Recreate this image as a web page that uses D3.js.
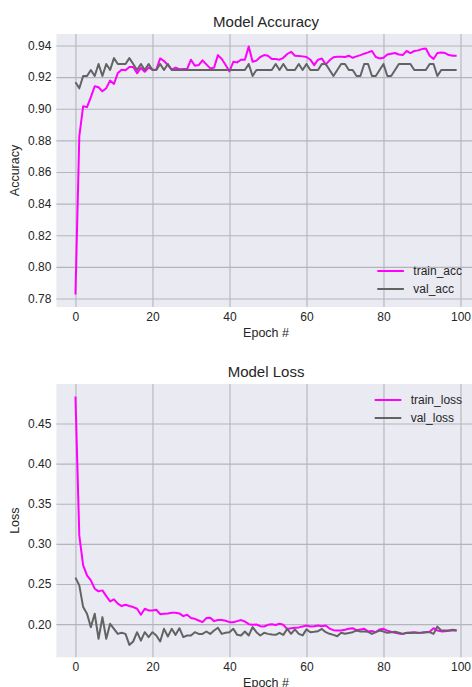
<!DOCTYPE html>
<html>
<head>
<meta charset="utf-8">
<script src="https://cdn.jsdelivr.net/npm/d3@7"></script>
<style>
  body { margin: 0; background: #fff; }
  text { font-family: "Liberation Sans", Arial, sans-serif; fill: #262626; }
</style>
</head>
<body>
<div id="chart"></div>
<script>
// data, one value per epoch (0..99)
const trainAcc = [
  0.7825, 0.8827, 0.9016, 0.9010, 0.9073, 0.9142, 0.9136, 0.9110, 0.9130, 0.9178,
  0.9157, 0.9226, 0.9247, 0.9243, 0.9264, 0.9264, 0.9224, 0.9258, 0.9234, 0.9260,
  0.9247, 0.9247, 0.9318, 0.9302, 0.9276, 0.9247, 0.9260, 0.9250, 0.9251, 0.9251,
  0.9310, 0.9272, 0.9276, 0.9306, 0.9280, 0.9255, 0.9260, 0.9339, 0.9314, 0.9276,
  0.9236, 0.9297, 0.9293, 0.9310, 0.9310, 0.9394, 0.9297, 0.9304, 0.9327, 0.9339,
  0.9335, 0.9314, 0.9314, 0.9310, 0.9322, 0.9346, 0.9360, 0.9335, 0.9333, 0.9331,
  0.9327, 0.9310, 0.9276, 0.9310, 0.9318, 0.9280, 0.9306, 0.9325, 0.9329, 0.9329,
  0.9327, 0.9335, 0.9322, 0.9331, 0.9339, 0.9348, 0.9356, 0.9365, 0.9327, 0.9318,
  0.9322, 0.9343, 0.9348, 0.9352, 0.9343, 0.9339, 0.9365, 0.9352, 0.9365, 0.9369,
  0.9377, 0.9381, 0.9335, 0.9314, 0.9352, 0.9356, 0.9352, 0.9339, 0.9335, 0.9335
];
const valAcc = [
  0.9167, 0.9129, 0.9207, 0.9207, 0.9245, 0.9207, 0.9283, 0.9207, 0.9283, 0.9245,
  0.9320, 0.9283, 0.9283, 0.9283, 0.9320, 0.9283, 0.9245, 0.9283, 0.9245, 0.9283,
  0.9245, 0.9245, 0.9283, 0.9245, 0.9283, 0.9245, 0.9245, 0.9245, 0.9245, 0.9245,
  0.9245, 0.9245, 0.9245, 0.9245, 0.9245, 0.9245, 0.9245, 0.9245, 0.9245, 0.9245,
  0.9245, 0.9245, 0.9245, 0.9245, 0.9245, 0.9283, 0.9207, 0.9245, 0.9245, 0.9245,
  0.9245, 0.9245, 0.9283, 0.9245, 0.9283, 0.9245, 0.9245, 0.9245, 0.9283, 0.9245,
  0.9283, 0.9245, 0.9245, 0.9245, 0.9283, 0.9283, 0.9245, 0.9207, 0.9245, 0.9283,
  0.9283, 0.9245, 0.9245, 0.9207, 0.9207, 0.9283, 0.9283, 0.9207, 0.9207, 0.9245,
  0.9283, 0.9207, 0.9207, 0.9245, 0.9283, 0.9283, 0.9283, 0.9283, 0.9245, 0.9245,
  0.9245, 0.9245, 0.9283, 0.9283, 0.9207, 0.9245, 0.9245, 0.9245, 0.9245, 0.9245
];
const trainLoss = [
  0.4838, 0.3100, 0.2734, 0.2609, 0.2546, 0.2442, 0.2409, 0.2421, 0.2350, 0.2284,
  0.2309, 0.2255, 0.2226, 0.2242, 0.2226, 0.2213, 0.2192, 0.2117, 0.2192, 0.2171,
  0.2171, 0.2180, 0.2125, 0.2130, 0.2134, 0.2142, 0.2142, 0.2134, 0.2100, 0.2117,
  0.2076, 0.2067, 0.2046, 0.2025, 0.2076, 0.2080, 0.2038, 0.2051, 0.2051, 0.2042,
  0.2025, 0.2025, 0.2038, 0.2051, 0.2034, 0.2000, 0.1992, 0.1996, 0.1975, 0.1971,
  0.1992, 0.2000, 0.1990, 0.2005, 0.1992, 0.1940, 0.1950, 0.1955, 0.1960, 0.1970,
  0.1984, 0.1970, 0.1975, 0.1984, 0.1975, 0.1984, 0.1945, 0.1925, 0.1921, 0.1921,
  0.1930, 0.1942, 0.1950, 0.1925, 0.1935, 0.1942, 0.1910, 0.1915, 0.1900, 0.1935,
  0.1942, 0.1920, 0.1905, 0.1892, 0.1885, 0.1879, 0.1890, 0.1895, 0.1900, 0.1890,
  0.1892, 0.1900, 0.1905, 0.1950, 0.1920, 0.1910, 0.1912, 0.1918, 0.1925, 0.1922
];
const valLoss = [
  0.2580, 0.2484, 0.2213, 0.2130, 0.1963, 0.2130, 0.1817, 0.2088, 0.1817, 0.2005,
  0.1942, 0.1879, 0.1892, 0.1879, 0.1742, 0.1784, 0.1900, 0.1796, 0.1900, 0.1838,
  0.1900, 0.1859, 0.1784, 0.1942, 0.1846, 0.1942, 0.1867, 0.1950, 0.1838, 0.1859,
  0.1859, 0.1900, 0.1879, 0.1879, 0.1909, 0.1879, 0.1921, 0.1955, 0.1879, 0.1892,
  0.1900, 0.1942, 0.1867, 0.1859, 0.1909, 0.1859, 0.1963, 0.1900, 0.1859, 0.1892,
  0.1879, 0.1871, 0.1867, 0.1892, 0.1867, 0.1942, 0.1880, 0.1935, 0.1880, 0.1860,
  0.1935, 0.1900, 0.1905, 0.1912, 0.1940, 0.1900, 0.1880, 0.1867, 0.1850, 0.1892,
  0.1880, 0.1890, 0.1900, 0.1921, 0.1909, 0.1909, 0.1905, 0.1879, 0.1900, 0.1921,
  0.1909, 0.1892, 0.1900, 0.1905, 0.1892, 0.1879, 0.1892, 0.1890, 0.1892, 0.1892,
  0.1895, 0.1900, 0.1900, 0.1879, 0.1970, 0.1921, 0.1921, 0.1921, 0.1930, 0.1921
];

const epochTicks = [0, 20, 40, 60, 80, 100];
const accTicks = [0.78, 0.80, 0.82, 0.84, 0.86, 0.88, 0.90, 0.92, 0.94];
const lossTicks = [0.20, 0.25, 0.30, 0.35, 0.40, 0.45];

const W = 472, H = 687;
const TRAIN_COLOR = "#ff00ff";
const VAL_COLOR = "#636363";

const svg = d3.select("#chart").append("svg")
    .attr("width", W)
    .attr("height", H);

// x spans epochs with matplotlib-like 5% margins, same for both panels
const epochs = d3.range(trainAcc.length);
const xPad = (epochs.length - 1) * 0.05;
const x = d3.scaleLinear()
    .domain([-xPad, epochs.length - 1 + xPad])
    .range([56.4, 475.7]);

function padded(arrs) {
    const lo = d3.min(arrs, a => d3.min(a));
    const hi = d3.max(arrs, a => d3.max(a));
    const p = (hi - lo) * 0.05;
    return [lo - p, hi + p];
}

function drawPanel(opt) {
    const top = opt.top, bottom = opt.bottom;
    const y = d3.scaleLinear()
        .domain(padded([opt.train, opt.val]))
        .range([bottom, top]);

    const g = svg.append("g");

    // axes background
    g.append("rect")
        .attr("x", x.range()[0])
        .attr("y", top)
        .attr("width", x.range()[1] - x.range()[0])
        .attr("height", bottom - top)
        .attr("fill", "#eaeaf2");

    // grid
    g.append("g")
        .attr("transform", `translate(0,${bottom})`)
        .call(d3.axisBottom(x).tickValues(epochTicks).tickSize(-(bottom - top)).tickFormat(""))
        .call(s => s.select(".domain").remove())
        .call(s => s.selectAll("line").attr("stroke", "#b4b4bc").attr("stroke-width", 1.1));

    g.append("g")
        .attr("transform", `translate(${x.range()[0]},0)`)
        .call(d3.axisLeft(y).tickValues(opt.ticks).tickSize(-(x.range()[1] - x.range()[0])).tickFormat(""))
        .call(s => s.select(".domain").remove())
        .call(s => s.selectAll("line").attr("stroke", "#b4b4bc").attr("stroke-width", 1.1));

    // tick labels
    g.append("g")
        .attr("transform", `translate(0,${bottom})`)
        .call(d3.axisBottom(x).tickValues(epochTicks).tickSize(0).tickPadding(5.5))
        .call(s => s.select(".domain").remove())
        .call(s => s.selectAll("text")
            .style("font-family", '"Liberation Sans", Arial, sans-serif')
            .style("font-size", "12px").attr("fill", "#262626"));

    g.append("g")
        .attr("transform", `translate(${x.range()[0]},0)`)
        .call(d3.axisLeft(y).tickValues(opt.ticks).tickSize(0).tickPadding(5)
            .tickFormat(opt.fmt))
        .call(s => s.select(".domain").remove())
        .call(s => s.selectAll("text")
            .style("font-family", '"Liberation Sans", Arial, sans-serif')
            .style("font-size", "12px").attr("fill", "#262626"));

    // lines
    const line = d3.line()
        .x((d, i) => x(i))
        .y(d => y(d));

    g.append("path")
        .datum(opt.train)
        .attr("fill", "none")
        .attr("stroke", TRAIN_COLOR)
        .attr("stroke-width", 2)
        .attr("stroke-linejoin", "round")
        .attr("d", line);

    g.append("path")
        .datum(opt.val)
        .attr("fill", "none")
        .attr("stroke", VAL_COLOR)
        .attr("stroke-width", 2)
        .attr("stroke-linejoin", "round")
        .attr("d", line);

    const midX = (x.range()[0] + x.range()[1]) / 2;

    // title
    g.append("text")
        .attr("x", midX)
        .attr("y", top - 7)
        .attr("text-anchor", "middle")
        .style("font-size", "15px")
        .text(opt.title);

    // axis labels
    g.append("text")
        .attr("x", midX)
        .attr("y", bottom + 29.5)
        .attr("text-anchor", "middle")
        .style("font-size", "12.5px")
        .text("Epoch #");

    g.append("text")
        .attr("transform", `translate(19,${(top + bottom) / 2}) rotate(-90)`)
        .attr("text-anchor", "middle")
        .style("font-size", "12.5px")
        .text(opt.ylabel);

    // legend
    const lg = g.append("g")
        .attr("transform", `translate(${opt.legendX},${opt.legendY})`);
    opt.names.forEach((name, i) => {
        lg.append("line")
            .attr("x1", 0).attr("x2", 26.6)
            .attr("y1", i * 18).attr("y2", i * 18)
            .attr("stroke", i === 0 ? TRAIN_COLOR : VAL_COLOR)
            .attr("stroke-width", 2);
        lg.append("text")
            .attr("x", 36)
            .attr("y", i * 18)
            .attr("dy", "0.35em")
            .style("font-size", "12px")
            .text(name);
    });
}

drawPanel({
    top: 34, bottom: 307,
    train: trainAcc, val: valAcc,
    ticks: accTicks, fmt: d3.format(".2f"),
    title: "Model Accuracy", ylabel: "Accuracy",
    names: ["train_acc", "val_acc"],
    legendX: 377.3, legendY: 271
});

drawPanel({
    top: 384, bottom: 657.3,
    train: trainLoss, val: valLoss,
    ticks: lossTicks, fmt: d3.format(".2f"),
    title: "Model Loss", ylabel: "Loss",
    names: ["train_loss", "val_loss"],
    legendX: 374.7, legendY: 400
});
</script>
</body>
</html>
